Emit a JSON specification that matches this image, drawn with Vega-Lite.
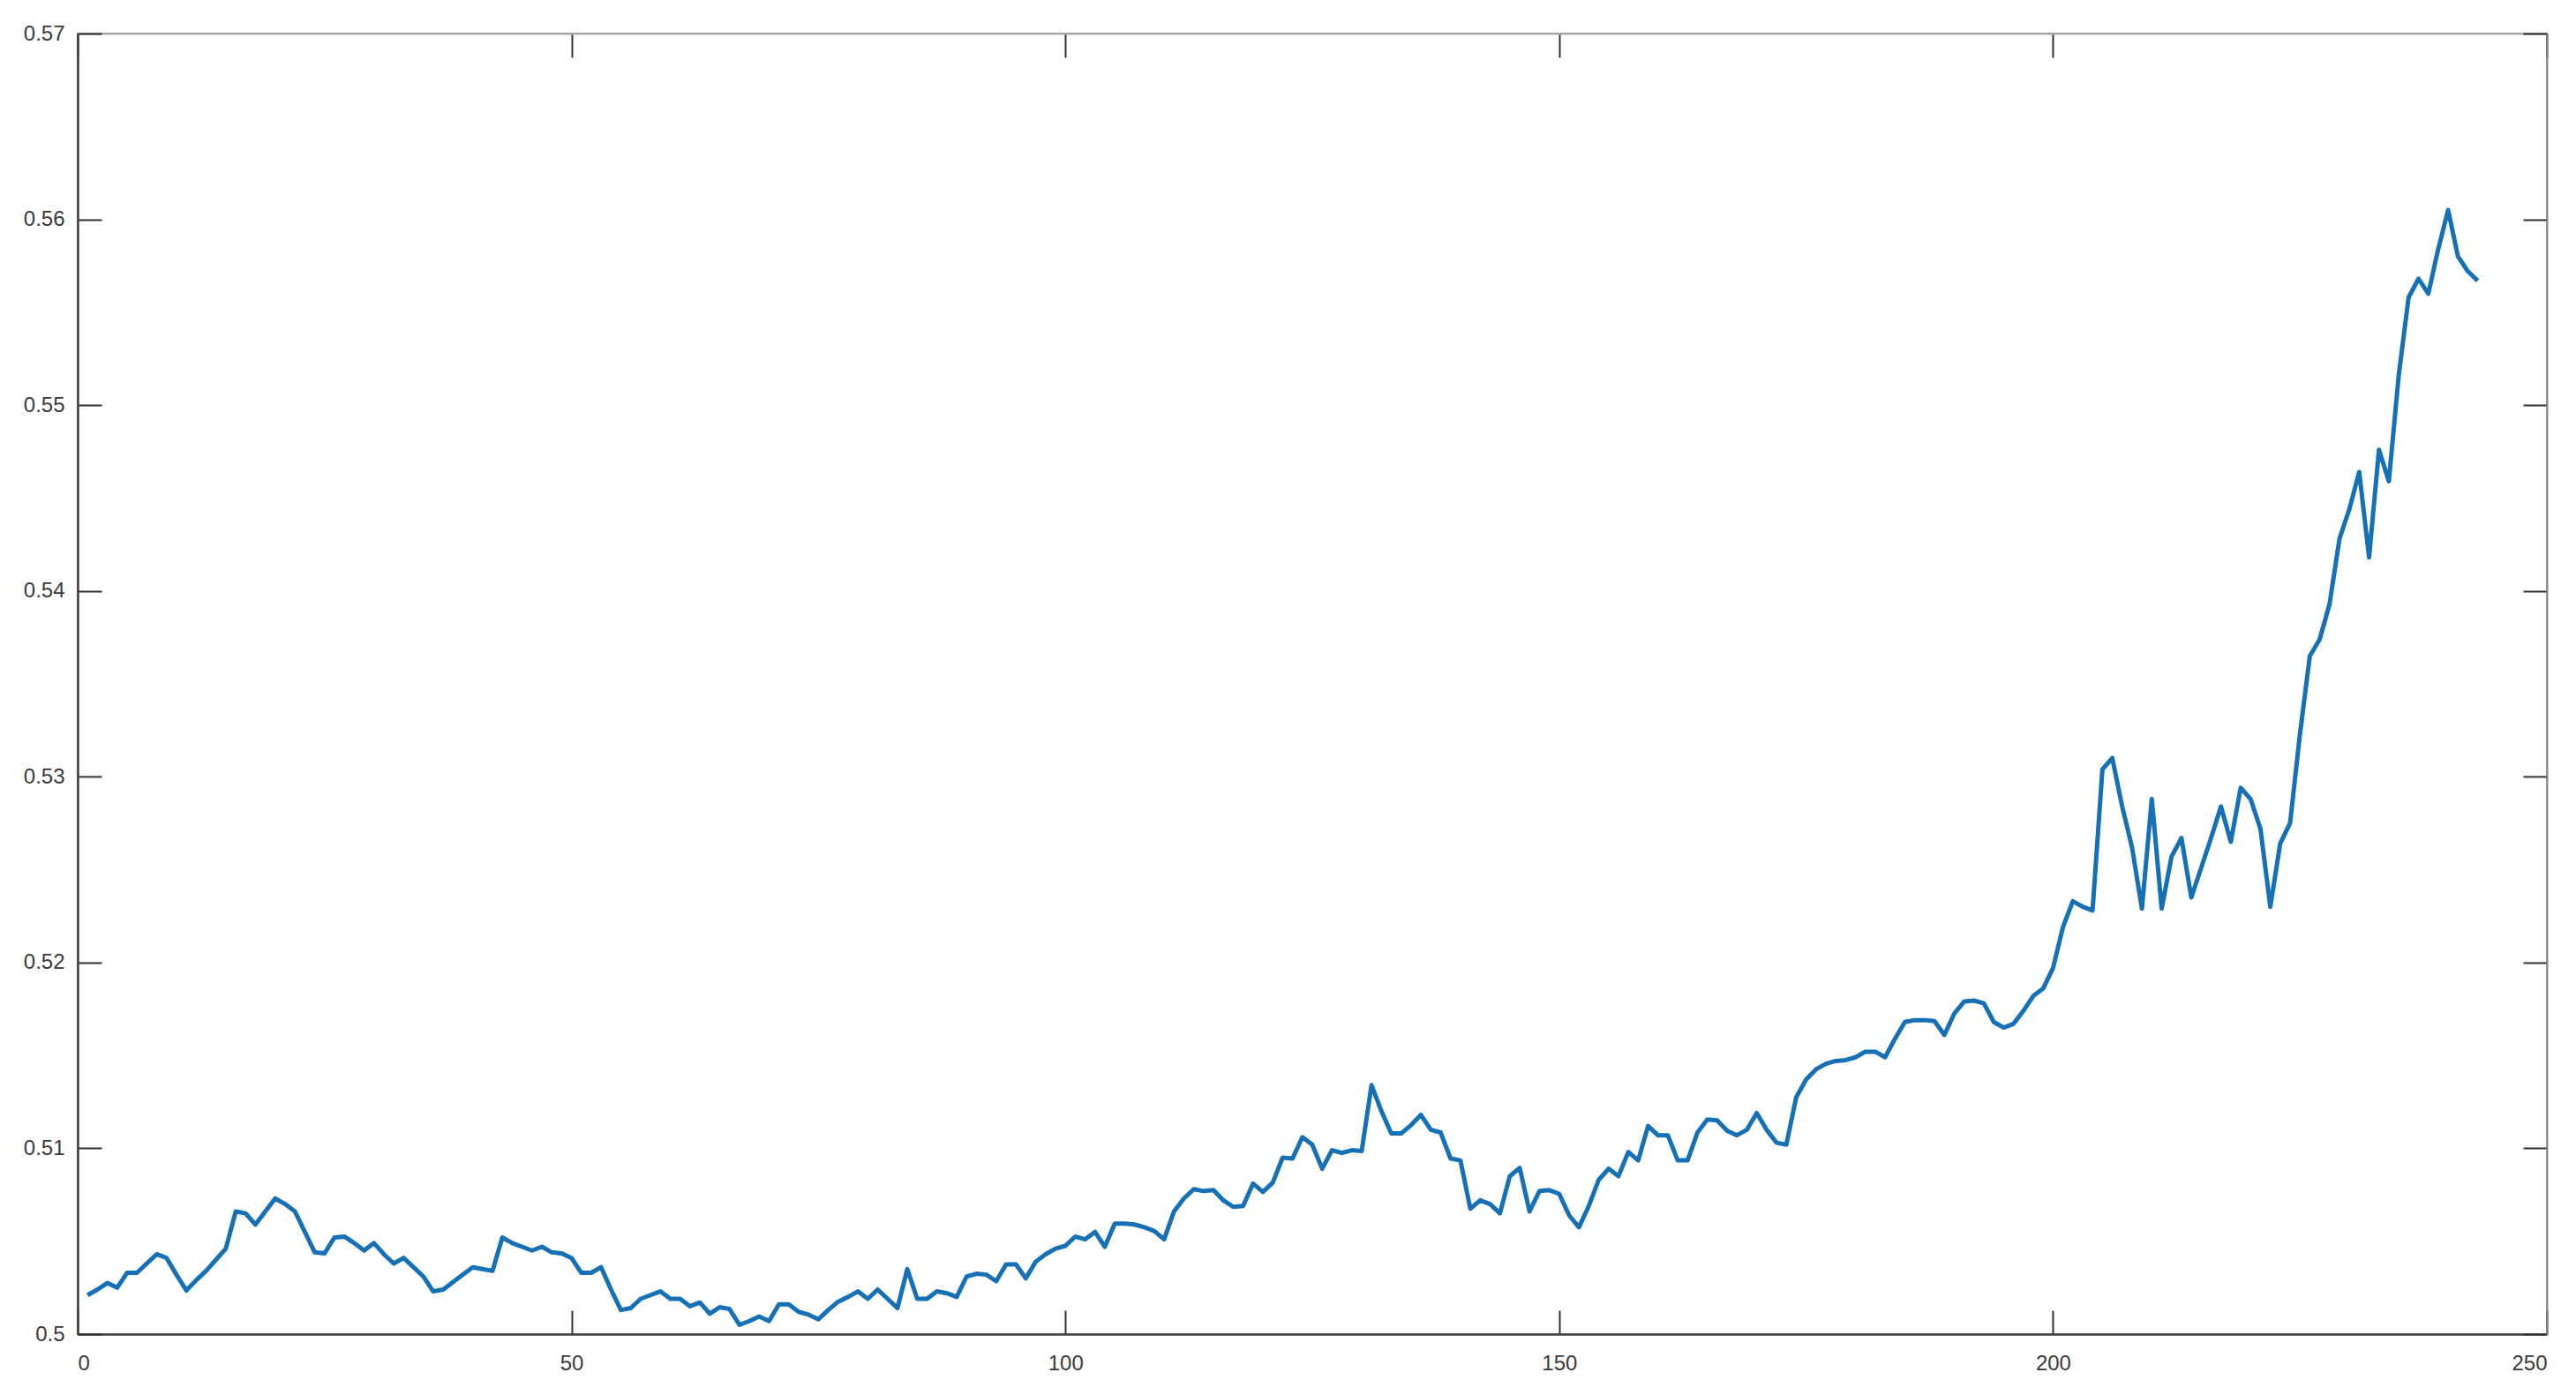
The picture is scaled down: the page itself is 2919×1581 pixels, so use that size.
{
  "$schema": "https://vega.github.io/schema/vega-lite/v6.json",
  "width": 2798,
  "height": 1474,
  "autosize": {"type": "none"},
  "padding": {"left": 88, "top": 38, "right": 33, "bottom": 69},
  "background": "white",
  "config": {
    "view": {"stroke": "#9a9a9a", "strokeWidth": 2},
    "axis": {
      "grid": false,
      "title": null,
      "domainColor": "#404040",
      "domainWidth": 2.5,
      "tickColor": "#303030",
      "tickWidth": 2,
      "tickSize": -27,
      "labelFont": "Liberation Sans",
      "labelFontSize": 24,
      "labelColor": "#3a3a3a"
    }
  },
  "data": {
    "values": [
      {"x":1,"y":0.5021},{"x":2,"y":0.5024},{"x":3,"y":0.50275},{"x":4,"y":0.5025},{"x":5,"y":0.5033},
      {"x":6,"y":0.5033},{"x":7,"y":0.5038},{"x":8,"y":0.5043},{"x":9,"y":0.5041},{"x":10,"y":0.5032},
      {"x":11,"y":0.50235},{"x":12,"y":0.5029},{"x":13,"y":0.5034},{"x":14,"y":0.504},{"x":15,"y":0.5046},
      {"x":16,"y":0.5066},{"x":17,"y":0.5065},{"x":18,"y":0.5059},{"x":19,"y":0.5066},{"x":20,"y":0.5073},
      {"x":21,"y":0.507},{"x":22,"y":0.5066},{"x":23,"y":0.5055},{"x":24,"y":0.5044},{"x":25,"y":0.50435},
      {"x":26,"y":0.5052},{"x":27,"y":0.50525},{"x":28,"y":0.5049},{"x":29,"y":0.5045},{"x":30,"y":0.5049},
      {"x":31,"y":0.5043},{"x":32,"y":0.5038},{"x":33,"y":0.5041},{"x":34,"y":0.5036},{"x":35,"y":0.5031},
      {"x":36,"y":0.5023},{"x":37,"y":0.5024},{"x":38,"y":0.5028},{"x":39,"y":0.5032},{"x":40,"y":0.5036},
      {"x":41,"y":0.5035},{"x":42,"y":0.5034},{"x":43,"y":0.5052},{"x":44,"y":0.5049},{"x":45,"y":0.5047},
      {"x":46,"y":0.5045},{"x":47,"y":0.5047},{"x":48,"y":0.5044},{"x":49,"y":0.50435},{"x":50,"y":0.5041},
      {"x":51,"y":0.5033},{"x":52,"y":0.5033},{"x":53,"y":0.5036},{"x":54,"y":0.5024},{"x":55,"y":0.5013},
      {"x":56,"y":0.5014},{"x":57,"y":0.5019},{"x":58,"y":0.5021},{"x":59,"y":0.5023},{"x":60,"y":0.5019},
      {"x":61,"y":0.5019},{"x":62,"y":0.5015},{"x":63,"y":0.5017},{"x":64,"y":0.5011},{"x":65,"y":0.50145},
      {"x":66,"y":0.50135},{"x":67,"y":0.5005},{"x":68,"y":0.5007},{"x":69,"y":0.50095},{"x":70,"y":0.5007},
      {"x":71,"y":0.5016},{"x":72,"y":0.5016},{"x":73,"y":0.5012},{"x":74,"y":0.50105},{"x":75,"y":0.5008},
      {"x":76,"y":0.5013},{"x":77,"y":0.50175},{"x":78,"y":0.502},{"x":79,"y":0.5023},{"x":80,"y":0.5019},
      {"x":81,"y":0.5024},{"x":82,"y":0.5019},{"x":83,"y":0.5014},{"x":84,"y":0.5035},{"x":85,"y":0.5019},
      {"x":86,"y":0.5019},{"x":87,"y":0.5023},{"x":88,"y":0.5022},{"x":89,"y":0.502},{"x":90,"y":0.5031},
      {"x":91,"y":0.50325},{"x":92,"y":0.5032},{"x":93,"y":0.50285},{"x":94,"y":0.50375},{"x":95,"y":0.50375},
      {"x":96,"y":0.503},{"x":97,"y":0.5039},{"x":98,"y":0.5043},{"x":99,"y":0.5046},{"x":100,"y":0.50475},
      {"x":101,"y":0.50525},{"x":102,"y":0.5051},{"x":103,"y":0.5055},{"x":104,"y":0.5047},{"x":105,"y":0.50595},
      {"x":106,"y":0.50595},{"x":107,"y":0.5059},{"x":108,"y":0.50575},{"x":109,"y":0.50555},{"x":110,"y":0.5051},
      {"x":111,"y":0.5066},{"x":112,"y":0.5073},{"x":113,"y":0.5078},{"x":114,"y":0.5077},{"x":115,"y":0.50775},
      {"x":116,"y":0.5072},{"x":117,"y":0.50685},{"x":118,"y":0.5069},{"x":119,"y":0.5081},{"x":120,"y":0.50765},
      {"x":121,"y":0.50815},{"x":122,"y":0.5095},{"x":123,"y":0.50945},{"x":124,"y":0.5106},{"x":125,"y":0.5102},
      {"x":126,"y":0.5089},{"x":127,"y":0.5099},{"x":128,"y":0.50975},{"x":129,"y":0.5099},{"x":130,"y":0.50985},
      {"x":131,"y":0.5134},{"x":132,"y":0.512},{"x":133,"y":0.5108},{"x":134,"y":0.5108},{"x":135,"y":0.51125},
      {"x":136,"y":0.5118},{"x":137,"y":0.511},{"x":138,"y":0.51085},{"x":139,"y":0.50945},{"x":140,"y":0.50935},
      {"x":141,"y":0.50675},{"x":142,"y":0.5072},{"x":143,"y":0.507},{"x":144,"y":0.5065},{"x":145,"y":0.5085},
      {"x":146,"y":0.50895},{"x":147,"y":0.5066},{"x":148,"y":0.5077},{"x":149,"y":0.50775},{"x":150,"y":0.50755},
      {"x":151,"y":0.5064},{"x":152,"y":0.50575},{"x":153,"y":0.5069},{"x":154,"y":0.5083},{"x":155,"y":0.5089},
      {"x":156,"y":0.5085},{"x":157,"y":0.5098},{"x":158,"y":0.50935},{"x":159,"y":0.5112},{"x":160,"y":0.5107},
      {"x":161,"y":0.5107},{"x":162,"y":0.50935},{"x":163,"y":0.50935},{"x":164,"y":0.51085},{"x":165,"y":0.51155},
      {"x":166,"y":0.5115},{"x":167,"y":0.51095},{"x":168,"y":0.5107},{"x":169,"y":0.511},{"x":170,"y":0.5119},
      {"x":171,"y":0.511},{"x":172,"y":0.5103},{"x":173,"y":0.5102},{"x":174,"y":0.51275},{"x":175,"y":0.5137},
      {"x":176,"y":0.51425},{"x":177,"y":0.51455},{"x":178,"y":0.5147},{"x":179,"y":0.51475},{"x":180,"y":0.5149},
      {"x":181,"y":0.5152},{"x":182,"y":0.5152},{"x":183,"y":0.5149},{"x":184,"y":0.5159},{"x":185,"y":0.5168},
      {"x":186,"y":0.5169},{"x":187,"y":0.5169},{"x":188,"y":0.51685},{"x":189,"y":0.5161},{"x":190,"y":0.51725},
      {"x":191,"y":0.5179},{"x":192,"y":0.51795},{"x":193,"y":0.5178},{"x":194,"y":0.5168},{"x":195,"y":0.5165},
      {"x":196,"y":0.5167},{"x":197,"y":0.5174},{"x":198,"y":0.5182},{"x":199,"y":0.5186},{"x":200,"y":0.5197},
      {"x":201,"y":0.5219},{"x":202,"y":0.5233},{"x":203,"y":0.523},{"x":204,"y":0.5228},{"x":205,"y":0.5304},
      {"x":206,"y":0.531},{"x":207,"y":0.5284},{"x":208,"y":0.5262},{"x":209,"y":0.5229},{"x":210,"y":0.5288},
      {"x":211,"y":0.5229},{"x":212,"y":0.5257},{"x":213,"y":0.5267},{"x":214,"y":0.5235},{"x":215,"y":0.5251},
      {"x":216,"y":0.5267},{"x":217,"y":0.5284},{"x":218,"y":0.5265},{"x":219,"y":0.5294},{"x":220,"y":0.5288},
      {"x":221,"y":0.5272},{"x":222,"y":0.523},{"x":223,"y":0.5264},{"x":224,"y":0.5275},{"x":225,"y":0.5323},
      {"x":226,"y":0.5365},{"x":227,"y":0.5374},{"x":228,"y":0.5393},{"x":229,"y":0.5428},{"x":230,"y":0.5444},
      {"x":231,"y":0.5464},{"x":232,"y":0.5418},{"x":233,"y":0.5476},{"x":234,"y":0.5459},{"x":235,"y":0.5516},
      {"x":236,"y":0.5558},{"x":237,"y":0.5568},{"x":238,"y":0.556},{"x":239,"y":0.5584},{"x":240,"y":0.5605},
      {"x":241,"y":0.558},{"x":242,"y":0.5572},{"x":243,"y":0.5567}
    ]
  },
  "layer": [
    {
      "mark": {"type": "line", "color": "#1570b5", "strokeWidth": 5, "strokeJoin": "round"},
      "encoding": {
        "x": {
          "field": "x", "type": "quantitative",
          "scale": {"domain": [0, 250], "nice": false, "zero": false},
          "axis": {"orient": "bottom", "values": [0, 50, 100, 150, 200, 250], "format": "d", "labelPadding": 48, "labelBaseline": "top"}
        },
        "y": {
          "field": "y", "type": "quantitative",
          "scale": {"domain": [0.5, 0.57], "nice": false, "zero": false},
          "axis": {"orient": "left", "values": [0.5, 0.51, 0.52, 0.53, 0.54, 0.55, 0.56, 0.57], "format": ".2~f", "labelPadding": 42}
        }
      }
    },
    {
      "mark": {"type": "line", "opacity": 0},
      "encoding": {
        "x": {
          "field": "x", "type": "quantitative",
          "scale": {"domain": [0, 250], "nice": false, "zero": false},
          "axis": {"orient": "top", "values": [0, 50, 100, 150, 200, 250], "labels": false, "domainColor": "#aaaaaa", "domainWidth": 2}
        },
        "y": {
          "field": "y", "type": "quantitative",
          "scale": {"domain": [0.5, 0.57], "nice": false, "zero": false},
          "axis": {"orient": "right", "values": [0.5, 0.51, 0.52, 0.53, 0.54, 0.55, 0.56, 0.57], "labels": false, "domainColor": "#8a8a8a", "domainWidth": 2}
        }
      }
    }
  ],
  "resolve": {"axis": {"x": "independent", "y": "independent"}}
}
